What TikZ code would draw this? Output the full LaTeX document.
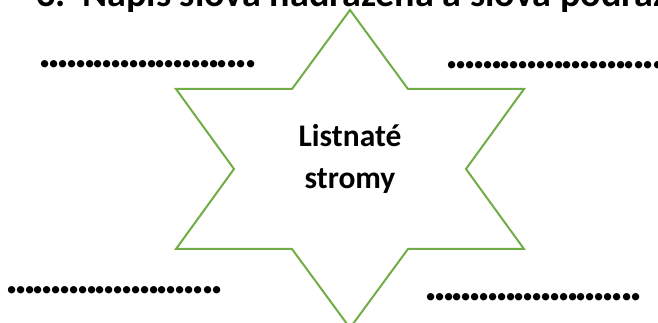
\documentclass[tikz,border=0pt]{standalone}
\usepackage{fontspec}
\setmainfont{Carlito}
\definecolor{stargreen}{RGB}{112,173,71}
\newcommand\adot[1]{\makebox[#1]{.}}
\newcommand\answerdots{\foreach \i in {1,...,21}{\adot{6.65pt}}\adot{7.2pt}\adot{7.2pt}\adot{7.2pt}}
\tikzset{
  dotline/.style={inner sep=0pt,anchor=base west,font=\fontsize{37}{40}\selectfont\bfseries},
  titletext/.style={inner sep=0pt,anchor=base west,font=\fontsize{28.6}{34}\selectfont\bfseries},
  startext/.style={inner sep=0pt,anchor=base,font=\fontsize{23.6}{28}\selectfont\bfseries},
  starline/.style={draw=stargreen,line width=1.5pt,line join=miter}
}
\begin{document}
\begin{tikzpicture}[x=0.75pt,y=-0.75pt]
\useasboundingbox (0,0) rectangle (658,323);
% title (cut at the top of the picture)
\node[titletext] (num) at (36,7) {3.};
\node[titletext] (title) at (82,7) {Napiš slova nadřazená a slova podřazená};
% star
\draw[starline] (350,10) -- (292,89) -- (176,89) -- (234,169) -- (176,249) -- (292,249)
  -- (350,328) -- (408,249) -- (524,249) -- (466,169) -- (524,89) -- (408,89) -- cycle;
% centre text
\node[startext] (l1) at (350,147) {Listnaté};
\node[startext] (l2) at (350,189) {stromy};
% dotted answer lines
\node[dotline] (d1) at (40.6,68) {\answerdots};
\node[dotline] (d2) at (447.6,69) {\answerdots};
\node[dotline] (d3) at (7.2,293.2) {\answerdots};
\node[dotline] (d4) at (426.2,300.5) {\answerdots};
\end{tikzpicture}
\end{document}
